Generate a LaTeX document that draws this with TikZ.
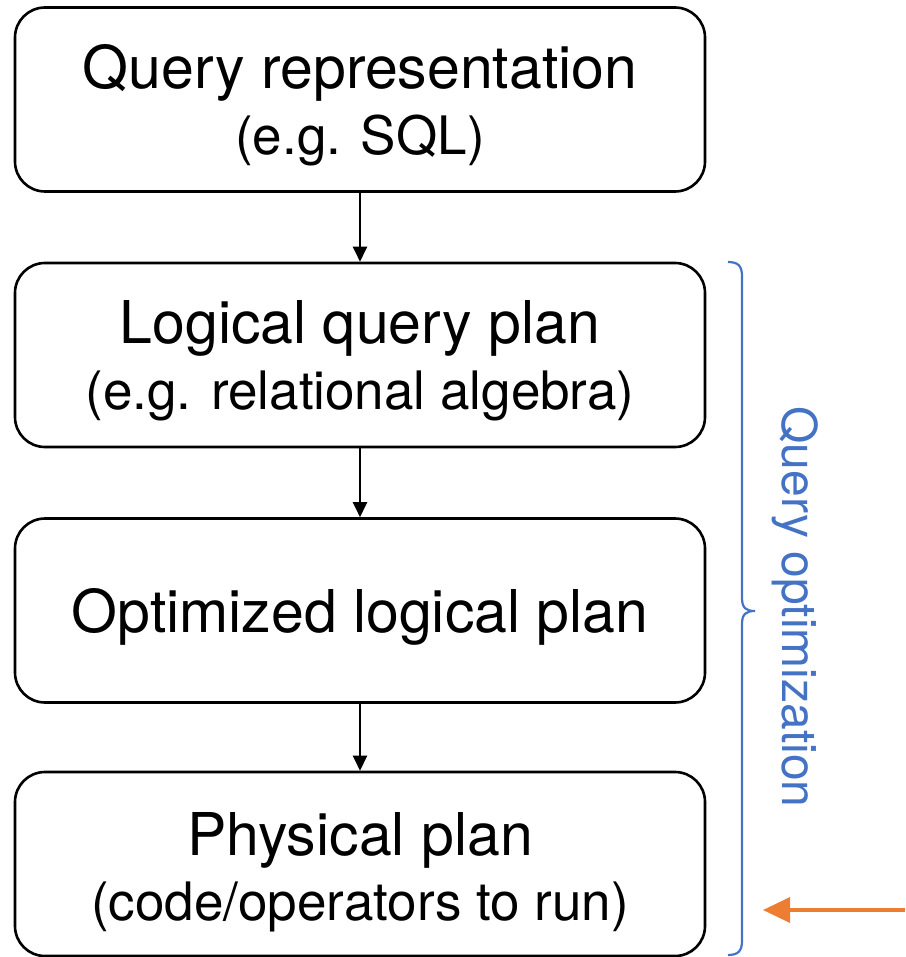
\documentclass[tikz,border=0pt]{standalone}
\usepackage{fontspec}
\setmainfont{TeX Gyre Heros}
\usepackage{tikz}
\usetikzlibrary{positioning,arrows.meta,shapes}
\definecolor{optblue}{HTML}{4472C4}
\definecolor{optorange}{HTML}{ED7D31}
\tikzstyle{arrow} = [line width=2.4pt,-{Triangle[length=15pt,width=14pt]}]
\newcommand{\subline}[1]{{\fontsize{53}{60}\selectfont #1}}
\newcommand{\topstrut}{\rule{0pt}{55pt}}

\begin{document}
\begin{tikzpicture}[x=1pt,y=-1pt,
			stage/.style={
					rectangle,
					rounded corners=30pt,
					draw,
					line width=2.6pt,
					minimum width=690pt,
					minimum height=184pt,
					align=center,
					font=\fontsize{59}{68}\selectfont
				}
		]
		\useasboundingbox (0,0) rectangle (905,957);
		\node[stage] (Q) at (360,99.5) {\topstrut Query representation\\[-2pt]\subline{(e.g. SQL)}};
		\node[stage] (L) at (360,355) {\topstrut Logical query plan\\[-2pt]\subline{(e.g. relational algebra)}};
		\node[stage] (O) at (360,610.5) {\rule{0pt}{56pt}Optimized logical plan};
		\node[stage] (P) at (360,864) {\rule{0pt}{60pt}Physical plan\\[-3pt]\subline{(code/operators to run)}};

		\draw[arrow] (Q) -- (L);
		\draw[arrow] (L) -- (O);
		\draw[arrow] (O) -- (P);

		% brace round the optimizer stages
		\draw[optblue,line width=2.2pt]
			(728,262) .. controls (738,262) and (742,266) .. (742,276)
			-- (742,598) .. controls (742,608) and (746,611) .. (755,611)
			.. controls (746,611) and (742,614) .. (742,624)
			-- (742,941) .. controls (742,951) and (738,955) .. (728,955);
		\node[optblue,rotate=-90,font=\fontsize{48}{56}\selectfont] (opt) at (795,607) {Query optimization};

		\coordinate (in) at (905,910);
		\draw[optorange,line width=3.6pt,-{Triangle[length=27pt,width=25pt]}] (in) -- (763,910);
	\end{tikzpicture}
\end{document}
